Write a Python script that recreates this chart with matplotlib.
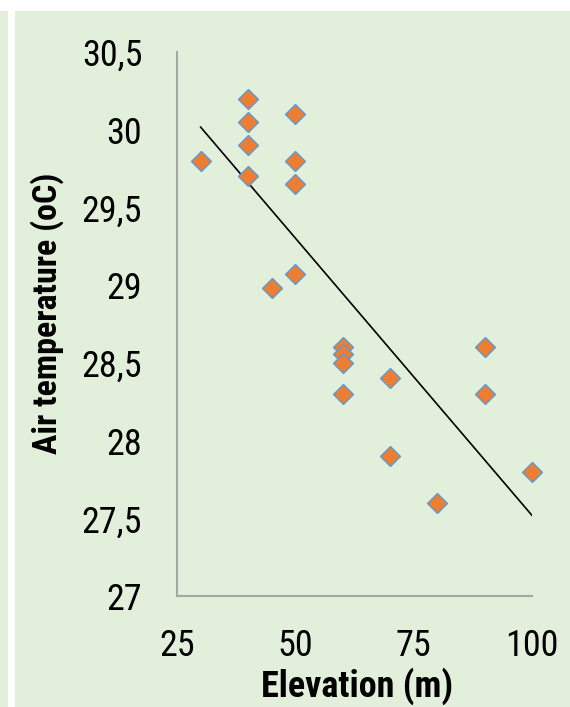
import numpy as np
import matplotlib
matplotlib.use("Agg")
import matplotlib.pyplot as plt
from matplotlib.patches import Rectangle

elevation = [30, 40, 40, 40, 40, 45, 50, 50, 50, 50, 60, 60, 60, 60, 70, 70, 80, 90, 90, 100]
air_temp = [29.8, 30.2, 30.05, 29.9, 29.7, 28.98, 30.1, 29.8, 29.65, 29.07,
            28.6, 28.56, 28.5, 28.3, 28.4, 27.9, 27.6, 28.6, 28.3, 27.8]
x_ticks = [25, 50, 75, 100]
y_ticks = [27, 27.5, 28, 28.5, 29, 29.5, 30, 30.5]
y_tick_labels = ["27", "27,5", "28", "28,5", "29", "29,5", "30", "30,5"]
x_label = "Elevation (m)"
y_label = "Air temperature (oC)"

FONT = ["Roboto Condensed", "DejaVu Sans"]
GREEN = "#E2EFDA"

W, H = 570, 707
fig = plt.figure(figsize=(W / 100, H / 100), dpi=100)
fig.patch.set_facecolor("white")
fig.add_artist(Rectangle((15 / W, 0), 1 - 15 / W, (H - 11) / H, transform=fig.transFigure,
                         facecolor=GREEN, edgecolor="none", zorder=-10))
fig.add_artist(Rectangle((0, 0), 8 / W, (H - 11) / H, transform=fig.transFigure,
                         facecolor=GREEN, edgecolor="none", zorder=-10))

ax = fig.add_axes([177 / W, (H - 596) / H, (532 - 177) / W, (596 - 52) / H])
ax.set_facecolor("none")

# linear trendline
coef = np.polyfit(elevation, air_temp, 1)
xs = np.array([min(elevation), max(elevation)])
ax.plot(xs, np.polyval(coef, xs), color="black", lw=1.2, zorder=2)

ax.plot(elevation, air_temp, linestyle="none", marker="D", markersize=9.8,
        markerfacecolor="#ED7D31", markeredgecolor="#5B9BD5", markeredgewidth=1.0,
        zorder=3, clip_on=False)

ax.set_xlim(25, 100)
ax.set_ylim(27, 30.5)
ax.set_xticks(x_ticks)
ax.set_xticklabels([str(v) for v in x_ticks])
ax.set_yticks(y_ticks)
ax.set_yticklabels(y_tick_labels)
ax.tick_params(axis="both", length=0, labelsize=26, labelcolor="black")
ax.tick_params(axis="x", pad=23)
ax.tick_params(axis="y", pad=25)
for lab in ax.get_xticklabels() + ax.get_yticklabels():
    lab.set_family(FONT)

for s in ["top", "right"]:
    ax.spines[s].set_visible(False)
for s in ["left", "bottom"]:
    ax.spines[s].set_color("#A6A6A6")
    ax.spines[s].set_linewidth(1.5)

ax.set_xlabel(x_label, fontsize=26, fontweight="bold", family=FONT, va="baseline")
ax.xaxis.set_label_coords(0.508, -0.1857)
ax.set_ylabel(y_label, fontsize=24.5, fontweight="bold", family=FONT, va="center")
ax.yaxis.set_label_coords(-0.365, 0.519)

fig.savefig("out.png", dpi=100)
